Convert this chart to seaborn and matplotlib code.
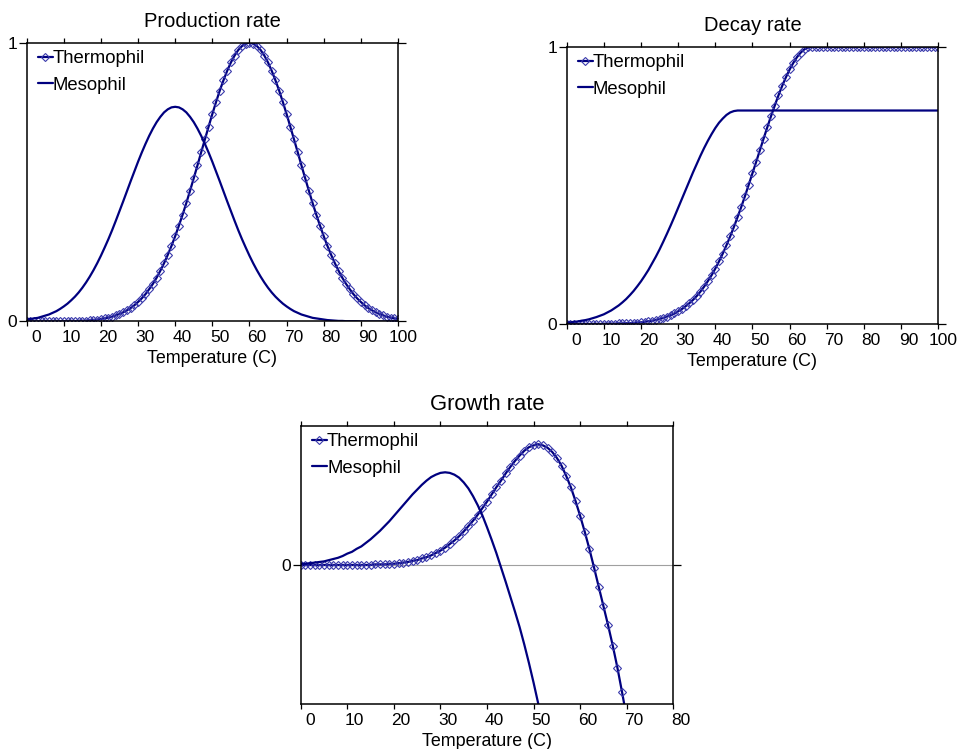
import numpy as np
import matplotlib
matplotlib.use("Agg")
import matplotlib.pyplot as plt
import matplotlib.transforms as mtransforms
import seaborn as sns

# ── DATA (one value per degree C) ────────────────────────────
temperature = np.arange(0, 101)

prod_thermophil = [
    0.000, 0.000, 0.000, 0.000, 0.000, 0.000, 0.000, 0.000, 0.000, 0.000,
    0.001, 0.001, 0.001, 0.001, 0.002, 0.002, 0.003, 0.004, 0.005, 0.007,
    0.009, 0.011, 0.014, 0.017, 0.022, 0.027, 0.033, 0.040, 0.048, 0.058,
    0.070, 0.083, 0.098, 0.116, 0.135, 0.157, 0.182, 0.209, 0.239, 0.271,
    0.306, 0.344, 0.383, 0.425, 0.469, 0.514, 0.560, 0.607, 0.653, 0.699,
    0.744, 0.787, 0.828, 0.865, 0.899, 0.929, 0.954, 0.974, 0.988, 0.997,
    1.000, 0.997, 0.988, 0.974, 0.954, 0.929, 0.899, 0.865, 0.828, 0.787,
    0.744, 0.699, 0.653, 0.607, 0.560, 0.514, 0.469, 0.425, 0.383, 0.344,
    0.306, 0.271, 0.239, 0.209, 0.182, 0.157, 0.135, 0.116, 0.098, 0.083,
    0.070, 0.058, 0.048, 0.040, 0.033, 0.027, 0.022, 0.017, 0.014, 0.011,
    0.009]
prod_mesophil = [
    0.007, 0.009, 0.011, 0.013, 0.017, 0.021, 0.025, 0.031, 0.037, 0.045,
    0.054, 0.064, 0.076, 0.089, 0.104, 0.121, 0.140, 0.161, 0.184, 0.209,
    0.236, 0.265, 0.295, 0.327, 0.361, 0.396, 0.431, 0.467, 0.503, 0.538,
    0.573, 0.606, 0.637, 0.666, 0.692, 0.715, 0.734, 0.750, 0.761, 0.768,
    0.770, 0.768, 0.761, 0.750, 0.734, 0.715, 0.692, 0.666, 0.637, 0.606,
    0.573, 0.538, 0.503, 0.467, 0.431, 0.396, 0.361, 0.327, 0.295, 0.265,
    0.236, 0.209, 0.184, 0.161, 0.140, 0.121, 0.104, 0.089, 0.076, 0.064,
    0.054, 0.045, 0.037, 0.031, 0.025, 0.021, 0.017, 0.013, 0.011, 0.009,
    0.007, 0.005, 0.004, 0.003, 0.002, 0.002, 0.001, 0.001, 0.001, 0.001,
    0.000, 0.000, 0.000, 0.000, 0.000, 0.000, 0.000, 0.000, 0.000, 0.000,
    0.000]

decay_thermophil = [
    0.000, 0.000, 0.000, 0.000, 0.000, 0.000, 0.000, 0.000, 0.000, 0.000,
    0.001, 0.001, 0.001, 0.001, 0.002, 0.002, 0.003, 0.003, 0.004, 0.005,
    0.006, 0.008, 0.010, 0.012, 0.015, 0.018, 0.022, 0.027, 0.032, 0.038,
    0.046, 0.054, 0.064, 0.075, 0.087, 0.101, 0.117, 0.135, 0.155, 0.176,
    0.200, 0.226, 0.254, 0.284, 0.316, 0.350, 0.386, 0.423, 0.462, 0.503,
    0.544, 0.585, 0.627, 0.669, 0.710, 0.750, 0.788, 0.825, 0.859, 0.890,
    0.918, 0.942, 0.963, 0.979, 0.991, 0.998, 1.000, 1.000, 1.000, 1.000,
    1.000, 1.000, 1.000, 1.000, 1.000, 1.000, 1.000, 1.000, 1.000, 1.000,
    1.000, 1.000, 1.000, 1.000, 1.000, 1.000, 1.000, 1.000, 1.000, 1.000,
    1.000, 1.000, 1.000, 1.000, 1.000, 1.000, 1.000, 1.000, 1.000, 1.000,
    1.000]
decay_mesophil = [
    0.005, 0.006, 0.008, 0.009, 0.012, 0.014, 0.017, 0.021, 0.025, 0.030,
    0.035, 0.042, 0.049, 0.058, 0.067, 0.078, 0.090, 0.104, 0.119, 0.136,
    0.154, 0.174, 0.195, 0.219, 0.243, 0.269, 0.297, 0.326, 0.356, 0.387,
    0.419, 0.451, 0.483, 0.515, 0.547, 0.577, 0.607, 0.635, 0.661, 0.685,
    0.707, 0.726, 0.741, 0.754, 0.763, 0.768, 0.770, 0.770, 0.770, 0.770,
    0.770, 0.770, 0.770, 0.770, 0.770, 0.770, 0.770, 0.770, 0.770, 0.770,
    0.770, 0.770, 0.770, 0.770, 0.770, 0.770, 0.770, 0.770, 0.770, 0.770,
    0.770, 0.770, 0.770, 0.770, 0.770, 0.770, 0.770, 0.770, 0.770, 0.770,
    0.770, 0.770, 0.770, 0.770, 0.770, 0.770, 0.770, 0.770, 0.770, 0.770,
    0.770, 0.770, 0.770, 0.770, 0.770, 0.770, 0.770, 0.770, 0.770, 0.770,
    0.770]

# growth runs out of the bottom of the frame, so only the visible part
growth_thermophil = [
    0.000, 0.000, 0.000, 0.000, 0.000, 0.000, 0.000, 0.000, 0.000, 0.000,
    0.000, 0.000, 0.000, 0.000, 0.000, 0.000, 0.001, 0.001, 0.001, 0.002,
    0.002, 0.003, 0.004, 0.005, 0.007, 0.008, 0.011, 0.013, 0.016, 0.020,
    0.024, 0.029, 0.035, 0.041, 0.048, 0.056, 0.065, 0.074, 0.084, 0.095,
    0.106, 0.118, 0.130, 0.141, 0.153, 0.164, 0.174, 0.183, 0.191, 0.197,
    0.200, 0.202, 0.200, 0.196, 0.189, 0.179, 0.166, 0.149, 0.130, 0.107,
    0.082, 0.055, 0.026, -0.005, -0.037, -0.069, -0.101, -0.135, -0.172, -0.213,
    -0.256, -0.301]
growth_mesophil = [
    0.002, 0.002, 0.003, 0.004, 0.005, 0.006, 0.008, 0.010, 0.012, 0.015,
    0.019, 0.022, 0.027, 0.031, 0.037, 0.043, 0.050, 0.057, 0.065, 0.073,
    0.082, 0.091, 0.100, 0.109, 0.118, 0.126, 0.134, 0.141, 0.147, 0.151,
    0.154, 0.155, 0.154, 0.151, 0.146, 0.138, 0.128, 0.115, 0.100, 0.083,
    0.063, 0.042, 0.020, -0.004, -0.028, -0.053, -0.078, -0.104, -0.133, -0.164,
    -0.197, -0.232, -0.267]

NAVY = "#00007f"
MARK = "#3a3aac"

# ── STYLE ────────────────────────────────────────────────────
sns.set_theme(style="white")
plt.rcParams["font.family"] = ["Liberation Sans", "DejaVu Sans"]
plt.rcParams["axes.edgecolor"] = "black"
plt.rcParams["axes.linewidth"] = 1.1
plt.rcParams["text.color"] = "black"
plt.rcParams["axes.labelcolor"] = "black"
plt.rcParams["axes.titlecolor"] = "black"

fig = plt.figure(figsize=(9.59, 7.49), dpi=100)
ax_p = fig.add_axes([0.0278, 0.5708, 0.3872, 0.3722])
ax_d = fig.add_axes([0.5909, 0.5674, 0.3875, 0.3702])
ax_g = fig.add_axes([0.3136, 0.0597, 0.3885, 0.3720])


def draw_panel(ax, title, title_size, th, me, xmax, ylim, yticks, ylabels):
    t_th = temperature[:len(th)]
    t_me = temperature[:len(me)]
    sns.lineplot(x=t_th, y=th, ax=ax, color=NAVY, lw=1.6, marker="D",
                 ms=4.2, mfc="none", mec=MARK, mew=0.8, label="Thermophil")
    sns.lineplot(x=t_me, y=me, ax=ax, color=NAVY, lw=1.6, label="Mesophil")

    ax.set_xlim(0, xmax)
    ax.set_ylim(*ylim)
    ax.set_xticks(np.arange(0, xmax + 1, 10))
    ax.set_yticks(yticks, ylabels)
    ax.tick_params(axis="x", direction="out", top=True, bottom=True,
                   length=3.5, width=0.9, pad=3, labelsize=12.5,
                   colors="black")
    ax.tick_params(axis="y", direction="out", left=True, right=True,
                   length=5.5, width=0.9, pad=1.5, labelsize=12.5,
                   colors="black")
    ax.set_xlabel("Temperature (C)", fontsize=12.9, labelpad=3.5)
    ax.set_ylabel("")
    h = ax.get_position().height * fig.get_figheight() * fig.dpi
    ax.set_title(title, fontsize=title_size, y=1 + 16 / h, pad=0)
    ax.legend(loc="upper left", bbox_to_anchor=(0.009, 1.0), frameon=False,
              fontsize=13.3, handlelength=0.8, handletextpad=0.02,
              labelspacing=0.5, borderpad=0.42, borderaxespad=0,
              numpoints=1)

    # tick labels sit a little to the right of their ticks
    for lab in ax.get_xticklabels():
        dx = (12.5 - 2.6 * len(lab.get_text())) / 100
        lab.set_transform(lab.get_transform() +
                          mtransforms.ScaledTranslation(dx, 0, fig.dpi_scale_trans))


draw_panel(ax_p, "Production rate", 14.5, prod_thermophil, prod_mesophil,
           100, (0, 1), [0, 1], ["0", "1"])
draw_panel(ax_d, "Decay rate", 14.5, decay_thermophil, decay_mesophil,
           100, (0, 1), [0, 1], ["0", "1"])
draw_panel(ax_g, "Growth rate", 15.8, growth_thermophil, growth_mesophil,
           80, (-0.233, 0.233), [0], ["0"])

# zero line of the growth panel, light grey and running past the frame
ax_g.axhline(0, color="#a0a0a0", lw=0.8, zorder=0.5)
for tk in ax_g.yaxis.get_major_ticks():
    tk.tick2line.set_color("#a0a0a0")

fig.savefig("out.png", dpi=100)
plt.close()
